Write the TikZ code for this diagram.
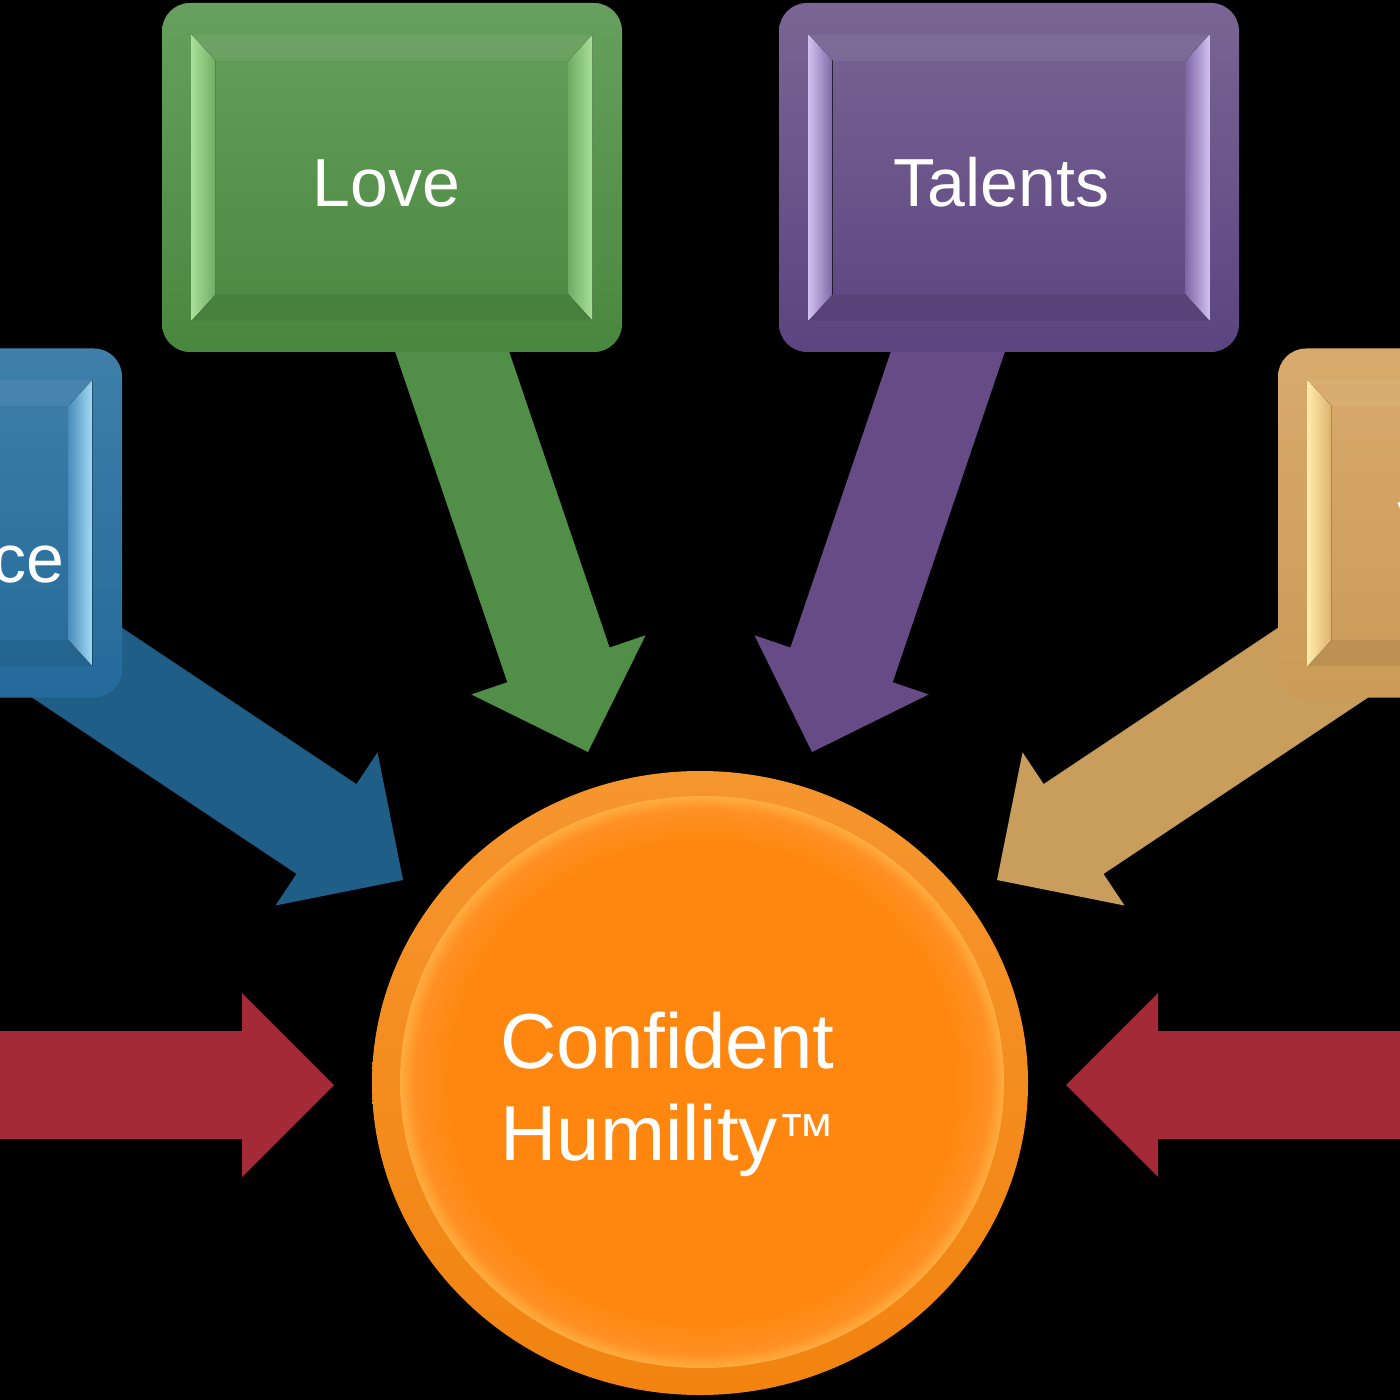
\documentclass[tikz,border=0pt]{standalone}
\usepackage{fontspec}
\setmainfont{Liberation Sans}
\usetikzlibrary{calc,shapes.geometric}

\definecolor{grnA}{HTML}{66A05E}
\definecolor{grnB}{HTML}{4A873E}
\definecolor{grnS}{HTML}{6FAE62}
\definecolor{grnH}{HTML}{A9DF98}
\definecolor{grnR}{HTML}{518E47}
\definecolor{purA}{HTML}{7A6594}
\definecolor{purB}{HTML}{5C4480}
\definecolor{purS}{HTML}{7E66A4}
\definecolor{purH}{HTML}{D2BFF0}
\definecolor{purR}{HTML}{664B86}
\definecolor{bluA}{HTML}{3F7FAA}
\definecolor{bluB}{HTML}{246A9A}
\definecolor{bluS}{HTML}{4A8DBC}
\definecolor{bluH}{HTML}{A4DBF5}
\definecolor{bluR}{HTML}{1F5E86}
\definecolor{golA}{HTML}{D8AA6C}
\definecolor{golB}{HTML}{CB9B57}
\definecolor{golS}{HTML}{DDB06C}
\definecolor{golH}{HTML}{FFEBAA}
\definecolor{golR}{HTML}{C99D5C}
\definecolor{redR}{HTML}{A52A38}
\definecolor{rimA}{HTML}{F6962F}
\definecolor{rimB}{HTML}{F2830F}
\definecolor{fcA}{HTML}{FF870F}
\definecolor{fcB}{HTML}{FF9024}
\definecolor{fcC}{HTML}{FFAD40}

\pgfdeclareradialshading{facesh}{\pgfpoint{0bp}{0bp}}{color(0bp)=(fcA); color(21bp)=(fcA); color(23.8bp)=(fcB); color(25bp)=(fcC); color(50bp)=(fcC)}

\newcommand\fatarrow[3]{% tail, tip, colour
  \coordinate (#1-#2-b) at ($(#2)!46pt!(#1)$);
  \fill[#3] ($(#1)!27pt!90:(#2)$) -- ($(#1-#2-b)!27pt!90:(#2)$) -- ($(#1-#2-b)!46pt!90:(#2)$) -- (#2)
     -- ($(#1-#2-b)!46pt!-90:(#2)$) -- ($(#1-#2-b)!27pt!-90:(#2)$) -- ($(#1)!27pt!-90:(#2)$) -- cycle;
}
\newcommand\bevelbox[6]{% name, centre, top, bottom, strip, highlight
  \node[boxshape, top color=#3, bottom color=#4] (#1) at #2 {};
  \fill[white, opacity=0.06] ($(#1.north west)+(30,32)$) -- ($(#1.north east)+(-30,32)$) -- ($(#1.north east)+(-54,58)$) -- ($(#1.north west)+(54,58)$) -- cycle;
  \fill[black, opacity=0.07] ($(#1.south west)+(30,-32)$) -- ($(#1.south east)+(-30,-32)$) -- ($(#1.south east)+(-54,-58)$) -- ($(#1.south west)+(54,-58)$) -- cycle;
  \fill[left color=#6, right color=#5] ($(#1.north west)+(30,32)$) -- ($(#1.north west)+(54,58)$) -- ($(#1.south west)+(54,-58)$) -- ($(#1.south west)+(30,-32)$) -- cycle;
  \fill[left color=#5, right color=#6] ($(#1.north east)+(-30,32)$) -- ($(#1.north east)+(-54,58)$) -- ($(#1.south east)+(-54,-58)$) -- ($(#1.south east)+(-30,-32)$) -- cycle;
}

\tikzset{
  boxshape/.style={rectangle, rounded corners=14pt, minimum width=230pt, minimum height=174.5pt, inner sep=0pt},
  boxlabel/.style={text=white, inner sep=0pt, font=\fontsize{34}{40}\selectfont},
  biglabel/.style={text=white, inner sep=0pt, font=\fontsize{39}{46}\selectfont}
}

\begin{document}
\begin{tikzpicture}[x=0.5pt,y=-0.5pt]
\useasboundingbox (0,0) rectangle (1400,1400);
\fill[black] (0,0) rectangle (1400,1400);

% arrow end points
\coordinate (bluT) at (4,614);
\coordinate (bluP) at (403,880);
\coordinate (grnT) at (421,260);
\coordinate (grnP) at (588,752);
\coordinate (purT) at (979,260);
\coordinate (purP) at (812,752);
\coordinate (golT) at (1396,614);
\coordinate (golP) at (997,880);
\coordinate (redLT) at (-30,1085);
\coordinate (redLP) at (334,1085);
\coordinate (redRT) at (1430,1085);
\coordinate (redRP) at (1066,1085);

\fatarrow{bluT}{bluP}{bluR}
\fatarrow{grnT}{grnP}{grnR}
\fatarrow{purT}{purP}{purR}
\fatarrow{golT}{golP}{golR}
\fatarrow{redLT}{redLP}{redR}
\fatarrow{redRT}{redRP}{redR}

% boxes
\bevelbox{blue}{(-108,523)}{bluA}{bluB}{bluS}{bluH}
\bevelbox{love}{(392,177.5)}{grnA}{grnB}{grnS}{grnH}
\bevelbox{talents}{(1009,177.5)}{purA}{purB}{purS}{purH}
\bevelbox{gold}{(1508,523)}{golA}{golB}{golS}{golH}

\node[boxlabel, anchor=base] (lovetxt) at (386.5,207) {Love};
\node[boxlabel, anchor=base] (talenttxt) at (1001.5,207) {Talents};
\node[boxlabel, anchor=base east] (bluetxt) at (65,582) {ce};
\node[boxlabel, anchor=base west] (goldtxt) at (1397,549) {V};

% centre circle
\node[ellipse, minimum width=328pt, minimum height=312pt, inner sep=0pt, top color=rimA, bottom color=rimB] (ch) at (700,1083) {};
\node[ellipse, minimum width=302pt, minimum height=286pt, inner sep=0pt, shading=facesh] (chface) at (702,1082) {};

\node[biglabel, anchor=base west] (conf) at (500,1068) {Confident};
\node[biglabel, anchor=base west] (humil) at (500,1160) {Humility{\fontsize{29}{30}\selectfont\raisebox{3pt}{™}}};
\end{tikzpicture}
\end{document}
